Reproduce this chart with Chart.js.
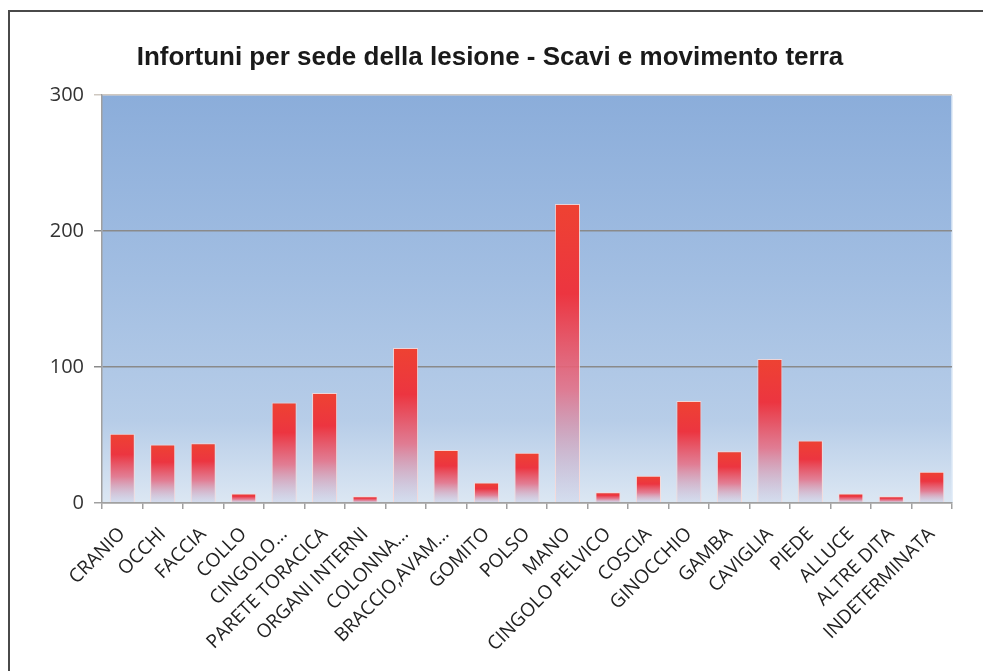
<!DOCTYPE html>
<html lang="it">
<head>
  <meta charset="UTF-8"/>
  <title>Infortuni per sede della lesione</title>
  <script src="https://cdn.jsdelivr.net/npm/chart.js"></script>
  <style>
    html, body {
      margin: 0;
      padding: 0;
      background: #fff;
      overflow: hidden;
    }
    #frame {
      position: absolute;
      left: 8px;
      top: 10px;
      width: 990px;
      height: 680px;
      border-top: 2px solid #4a4a4a;
      border-left: 2px solid #4a4a4a;
    }
    #wrap {
      position: absolute;
      left: 0;
      top: 0;
      width: 983px;
      height: 671px;
    }
  </style>
</head>
<body>
  <div id="frame"></div>
  <div id="wrap"><canvas id="chart" width="983" height="671"></canvas></div>
  <script>
    // sedi della lesione e numero di infortuni
    const categories = ['CRANIO', 'OCCHI', 'FACCIA', 'COLLO', 'CINGOLO...', 'PARETE TORACICA',
      'ORGANI INTERNI', 'COLONNA...', 'BRACCIO,AVAM...', 'GOMITO', 'POLSO', 'MANO',
      'CINGOLO PELVICO', 'COSCIA', 'GINOCCHIO', 'GAMBA', 'CAVIGLIA', 'PIEDE',
      'ALLUCE', 'ALTRE DITA', 'INDETERMINATA'];
    const infortuni = [51, 43, 44, 7, 74, 81, 5, 114, 39, 15, 37, 220, 8, 20, 75, 38, 106, 46, 7, 5, 23];
    const yTicks = [0, 100, 200, 300];

    // sfondo sfumato dell'area del grafico
    const plotBackground = {
      id: 'plotBackground',
      beforeDraw(chart) {
        const { ctx, chartArea: a } = chart;
        const g = ctx.createLinearGradient(0, a.top, 0, a.bottom);
        g.addColorStop(0, '#8badda');
        g.addColorStop(0.45, '#a2bee2');
        g.addColorStop(0.8, '#b7cde8');
        g.addColorStop(1, '#dce7f3');
        ctx.save();
        ctx.fillStyle = g;
        ctx.fillRect(a.left, a.top, a.right - a.left, a.bottom - a.top);
        ctx.strokeStyle = '#dce8f6';
        ctx.lineWidth = 1.5;
        ctx.beginPath();
        ctx.moveTo(a.right, a.top);
        ctx.lineTo(a.right, a.bottom);
        ctx.stroke();
        ctx.restore();
      }
    };

    function barGradient(c) {
      const chart = c.chart;
      if (!chart.chartArea || c.type !== 'data') return '#ec3a3a';
      const y = chart.scales.y;
      const top = y.getPixelForValue(c.raw);
      const bottom = y.getPixelForValue(0);
      const g = chart.ctx.createLinearGradient(0, top, 0, bottom);
      g.addColorStop(0, '#ee4232');
      g.addColorStop(0.3, '#ec3540');
      g.addColorStop(0.62, 'rgba(228,112,135,0.88)');
      g.addColorStop(1, 'rgba(195,200,228,0.3)');
      return g;
    }

    new Chart(document.getElementById('chart'), {
      type: 'bar',
      data: {
        labels: categories,
        datasets: [{
          data: infortuni,
          backgroundColor: barGradient,
          borderColor: 'rgba(255,215,210,0.8)',
          borderWidth: 1,
          borderSkipped: 'bottom',
          barPercentage: 0.62,
          categoryPercentage: 1
        }]
      },
      options: {
        responsive: false,
        animation: false,
        layout: { padding: { left: 28, right: 31, top: 0, bottom: 0 } },
        plugins: {
          legend: { display: false },
          tooltip: { enabled: false },
          title: {
            display: true,
            text: 'Infortuni per sede della lesione - Scavi e movimento terra',
            color: '#1a1a1a',
            font: { family: 'Liberation Sans', size: 26, weight: 'bold' },
            padding: { top: 42, bottom: 22 }
          }
        },
        scales: {
          y: {
            min: 0,
            max: 300,
            afterBuildTicks(s) { s.ticks = yTicks.map(v => ({ value: v })); },
            afterFit(s) { s.width = 74; },
            border: { color: '#a0a0a0', width: 1.5 },
            grid: {
              color: c => c.tick.value === 300 ? '#cfc8c0' : (c.tick.value === 0 ? '#a0a0a0' : '#8a8a8a'),
              lineWidth: 1.5,
              tickLength: 8
            },
            ticks: {
              color: '#333',
              padding: 10,
              font: { family: 'Open Sans', size: 20 }
            }
          },
          x: {
            afterFit(s) { s.height = 168; },
            border: { color: '#a0a0a0', width: 1.5 },
            grid: {
              offset: true,
              drawOnChartArea: false,
              color: '#a0a0a0',
              lineWidth: 1.5,
              tickLength: 6
            },
            ticks: {
              color: '#222',
              maxRotation: 45,
              minRotation: 45,
              autoSkip: false,
              padding: 14,
              font: { family: 'Open Sans', size: 19 }
            }
          }
        }
      },
      plugins: [plotBackground]
    });
  </script>
</body>
</html>
